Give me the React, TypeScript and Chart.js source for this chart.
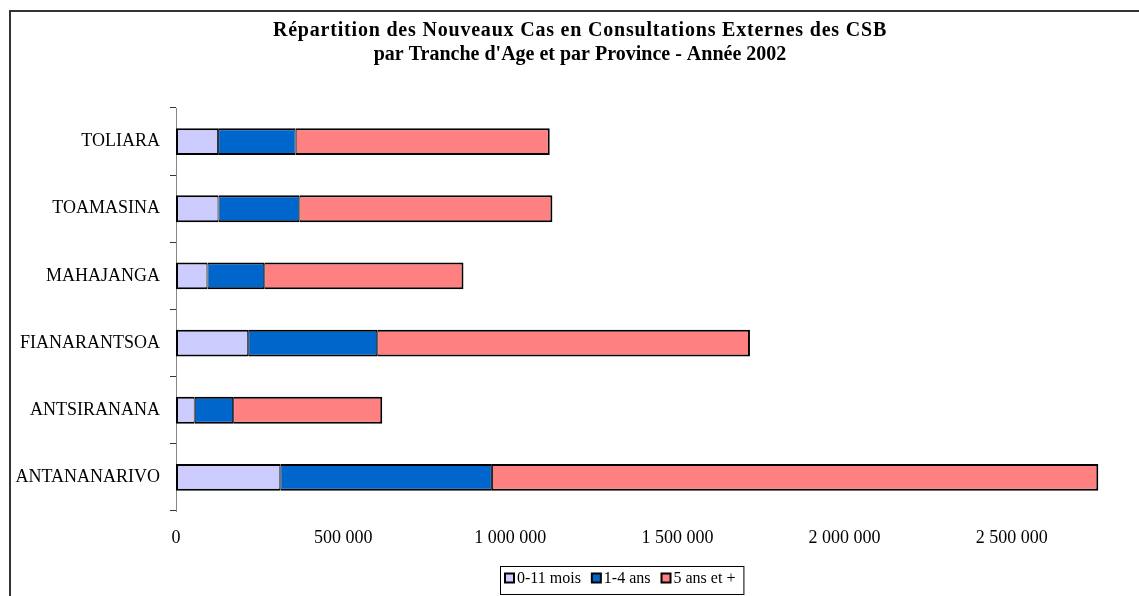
import React, { useEffect, useRef } from "react";
import { Chart, registerables } from "chart.js";

Chart.register(...registerables);

const provinces = ["TOLIARA", "TOAMASINA", "MAHAJANGA", "FIANARANTSOA", "ANTSIRANANA", "ANTANANARIVO"];
const seriesNames = ["0-11 mois", "1-4 ans", "5 ans et +"];
const age0to11m = [126000, 127000, 94000, 216000, 56000, 312000];
const age1to4 = [232000, 242000, 170000, 386000, 115000, 633000];
const age5plus = [760000, 757000, 596000, 1115000, 446000, 1814000];
const xTickValues = [0, 500000, 1000000, 1500000, 2000000, 2500000];
const seriesColors = ["#CCCCFF", "#0066CC", "#FF8080"];
const titleLines = [
  "Répartition des Nouveaux Cas en Consultations Externes des CSB",
  "par Tranche d'Age et par Province - Année 2002",
];

const SERIF = "'Liberation Serif', 'Times New Roman', serif";

const fmt = (v: number) => String(v).replace(/\B(?=(\d{3})+(?!\d))/g, " ");

const framePlugin = {
  id: "frame",
  beforeDraw(chart: any) {
    const { ctx, width, height } = chart;
    ctx.save();
    ctx.fillStyle = "#ffffff";
    ctx.fillRect(0, 0, width, height);
    ctx.strokeStyle = "#333333";
    ctx.lineWidth = 2;
    ctx.beginPath();
    ctx.moveTo(10, height);
    ctx.lineTo(10, 11);
    ctx.lineTo(width, 11);
    ctx.stroke();
    ctx.restore();
  },
};

const titlePlugin = {
  id: "twoLineTitle",
  afterDraw(chart: any) {
    const { ctx } = chart;
    ctx.save();
    ctx.font = `bold 20px ${SERIF}`;
    ctx.fillStyle = "#000";
    ctx.textAlign = "center";
    ctx.textBaseline = "middle";
    const cx = 580;
    titleLines.forEach((line, i) => {
      (ctx as any).letterSpacing = i === 0 ? "0.8px" : "0px";
      ctx.fillText(line, cx, 31 + i * 24);
    });
    ctx.restore();
  },
};

const legendPlugin = {
  id: "boxLegend",
  afterDraw(chart: any) {
    const { ctx } = chart;
    const ds = chart.data.datasets;
    ctx.save();
    ctx.font = `16px ${SERIF}`;
    const sq = 9;
    const gapText = 3;
    const gapItem = 11;
    const padL = 5;
    const padR = 8;
    const widths = ds.map((d: any) => ctx.measureText(d.label).width);
    let total = padL + padR;
    widths.forEach((w: number, i: number) => {
      total += sq + gapText + w + (i > 0 ? gapItem : 0);
    });
    const cx = 622;
    const top = 566;
    const h = 28;
    const left = Math.round(cx - total / 2);
    ctx.strokeStyle = "#000";
    ctx.lineWidth = 1;
    ctx.fillStyle = "#fff";
    ctx.fillRect(left + 0.5, top + 0.5, total, h);
    ctx.strokeRect(left + 0.5, top + 0.5, total, h);
    let x = left + padL;
    const cy = top + h / 2 - 1;
    ds.forEach((d: any, i: number) => {
      if (i > 0) x += gapItem;
      ctx.fillStyle = d.backgroundColor;
      ctx.fillRect(x, cy - sq / 2 - 1, sq, sq);
      ctx.lineWidth = 2;
      ctx.strokeStyle = "#000";
      ctx.strokeRect(x, cy - sq / 2 - 1, sq, sq);
      x += sq + gapText;
      ctx.fillStyle = "#000";
      ctx.textBaseline = "middle";
      ctx.textAlign = "left";
      ctx.fillText(d.label, x, cy);
      x += widths[i];
    });
    ctx.restore();
  },
};

export default function App() {
  const ref = useRef<HTMLCanvasElement | null>(null);

  useEffect(() => {
    if (!ref.current) return;
    const values = [age0to11m, age1to4, age5plus];
    const n = values.length;
    const chart = new Chart(ref.current, {
      type: "bar",
      data: {
        labels: provinces,
        datasets: values.map((vals, i) => ({
          label: seriesNames[i],
          data: vals,
          backgroundColor: seriesColors[i],
          borderColor: "#000000",
          borderWidth: { top: 2, bottom: 2, left: i === 0 ? 2 : 1, right: i === n - 1 ? 2 : 1 },
          borderSkipped: false,
          barPercentage: 0.4,
          categoryPercentage: 1,
        })),
      },
      options: {
        indexAxis: "y",
        responsive: false,
        animation: false,
        layout: { padding: { left: 10, right: 27, top: 108, bottom: 47 } },
        plugins: {
          legend: { display: false },
          tooltip: { enabled: false },
          title: { display: false },
        },
        scales: {
          x: {
            stacked: true,
            min: 0,
            max: 2800000,
            grid: { display: false, drawTicks: false },
            border: { display: false },
            afterBuildTicks: (scale: any) => {
              scale.ticks = xTickValues.map((v) => ({ value: v }));
            },
            ticks: {
              autoSkip: false,
              maxRotation: 0,
              padding: 16,
              color: "#000",
              font: { family: SERIF, size: 18 },
              callback: (v: any) => fmt(Number(v)),
            },
            afterFit: (scale: any) => {
              scale.height = 38;
            },
          },
          y: {
            stacked: true,
            grid: {
              display: true,
              drawOnChartArea: false,
              drawTicks: true,
              tickLength: 6,
              color: "#333333",
              lineWidth: 1,
              offset: true,
            },
            border: { display: true, color: "#888888", width: 1 },
            ticks: {
              padding: 10,
              color: "#000",
              font: { family: SERIF, size: 18 },
              autoSkip: false,
            },
            afterFit: (scale: any) => {
              scale.width = 166;
            },
          },
        },
      },
      plugins: [framePlugin, titlePlugin, legendPlugin],
    });
    return () => chart.destroy();
  }, []);

  return (
    <div style={{ position: "absolute", left: 0, top: 0, width: 1139, height: 596, overflow: "hidden" }}>
      <canvas ref={ref} width={1139} height={596} style={{ display: "block", width: 1139, height: 596 }} />
    </div>
  );
}
